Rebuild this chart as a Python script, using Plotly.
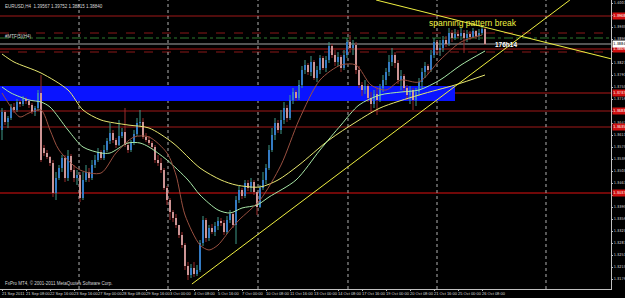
import plotly.graph_objects as go

# ---------------- data (prices in points, 1 point = 0.0001) ----------------
opens = [13626,13680,13650,13662,13695,13686,13710,13704,13719,13713,
         13701,13680,13692,13737,13572,13557,13545,13527,13437,13482,
         13512,13542,13482,13548,13506,13482,13491,13422,13476,13500,
         13482,13521,13536,13560,13542,13566,13593,13617,13596,13581,
         13608,13620,13581,13566,13587,13614,13647,13650,13605,13596,
         13587,13575,13536,13527,13506,13452,13416,13380,13362,13341,
         13311,13281,13218,13191,13212,13194,13206,13287,13356,13302,
         13332,13320,13338,13353,13347,13320,13356,13374,13341,13416,
         13446,13428,13467,13452,13470,13440,13395,13452,13476,13512,
         13566,13611,13647,13626,13656,13692,13662,13716,13740,13722,
         13761,13806,13821,13800,13830,13782,13806,13842,13812,13836,
         13878,13851,13830,13845,13812,13851,13890,13872,13881,13806,
         13761,13746,13758,13722,13704,13734,13716,13752,13776,13800,
         13830,13851,13827,13776,13788,13752,13731,13746,13716,13740,
         13770,13800,13818,13806,13851,13890,13866,13872,13896,13884,
         13917,13902,13914,13908,13917,13902,13914,13905,13923,13908,
         13917,13929]
closes = [13680,13650,13662,13695,13686,13710,13704,13719,13713,13701,
          13680,13692,13737,13536,13557,13545,13527,13437,13482,13512,
          13542,13482,13548,13506,13482,13491,13422,13476,13500,13482,
          13521,13536,13560,13542,13566,13593,13617,13596,13581,13608,
          13620,13581,13566,13587,13614,13647,13650,13605,13596,13587,
          13575,13536,13527,13506,13452,13416,13380,13362,13341,13311,
          13281,13218,13191,13212,13194,13206,13287,13356,13302,13332,
          13320,13338,13353,13347,13320,13356,13374,13341,13416,13446,
          13428,13467,13452,13470,13440,13395,13452,13476,13512,13566,
          13611,13647,13626,13656,13692,13662,13716,13740,13722,13761,
          13806,13821,13800,13830,13782,13806,13842,13812,13836,13878,
          13851,13830,13845,13812,13851,13890,13872,13881,13806,13761,
          13746,13758,13722,13704,13734,13716,13752,13776,13800,13830,
          13851,13827,13776,13788,13752,13731,13746,13716,13740,13770,
          13800,13818,13806,13851,13890,13866,13872,13896,13884,13917,
          13902,13914,13908,13917,13902,13914,13905,13923,13908,13917,
          13929,13884]
highs = [13692,13686,13668,13704,13707,13719,13716,13728,13725,13716,
         13707,13698,13746,13791,13581,13566,13548,13536,13500,13521,
         13551,13551,13566,13554,13521,13506,13500,13500,13521,13512,
         13536,13551,13572,13566,13581,13602,13647,13626,13602,13656,
         13632,13692,13590,13596,13626,13662,13686,13662,13617,13608,
         13593,13581,13551,13542,13512,13458,13422,13386,13374,13341,
         13320,13287,13230,13224,13230,13221,13296,13368,13362,13341,
         13344,13350,13365,13362,13356,13368,13386,13380,13428,13458,
         13452,13476,13476,13482,13476,13440,13461,13500,13524,13581,
         13632,13662,13656,13686,13710,13701,13731,13752,13746,13776,
         13818,13836,13827,13848,13836,13818,13851,13848,13848,13890,
         13884,13866,13860,13851,13866,13902,13911,13896,13890,13818,
         13770,13776,13764,13740,13746,13752,13764,13791,13812,13851,
         13872,13860,13836,13806,13794,13761,13758,13752,13752,13782,
         13812,13830,13824,13866,13902,13896,13896,13908,13908,13932,
         13926,13929,13926,13932,13926,13926,13923,13932,13926,13929,
         13938,13932]
lows = [13596,13641,13632,13656,13677,13680,13695,13698,13704,13692,
        13674,13668,13683,13530,13548,13539,13518,13425,13416,13476,
        13500,13470,13473,13500,13470,13461,13410,13416,13470,13470,
        13476,13512,13530,13536,13536,13560,13584,13587,13572,13578,
        13602,13575,13557,13560,13581,13608,13638,13599,13590,13581,
        13569,13527,13518,13497,13446,13401,13356,13350,13332,13302,
        13272,13206,13176,13182,13185,13188,13200,13278,13290,13293,
        13314,13308,13326,13338,13311,13314,13347,13332,13284,13407,
        13419,13422,13443,13440,13431,13371,13392,13446,13464,13506,
        13560,13596,13617,13614,13644,13650,13656,13704,13713,13716,
        13752,13794,13791,13788,13776,13770,13794,13806,13800,13827,
        13842,13818,13818,13800,13806,13842,13860,13851,13794,13752,
        13728,13734,13710,13680,13692,13671,13710,13740,13761,13788,
        13818,13812,13764,13746,13740,13716,13704,13686,13698,13728,
        13752,13782,13794,13800,13842,13854,13848,13860,13875,13878,
        13890,13896,13902,13896,13857,13890,13896,13902,13899,13896,
        13911,13881]

# moving averages read at sparse bars
ma_slow_bars = [0, 4, 13, 22, 27, 33, 42, 49, 57, 66, 73, 78, 86, 92, 99, 109, 118, 126, 139, 151, 161]
ma_slow_vals = [13854,13830,13797,13746,13686,13656,13641,13632,13587,13512,13476,13461,13455,13476,13521,13596,13650,13692,13731,13761,13791]
ma_mid_bars = [0, 3, 9, 13, 16, 22, 27, 33, 36, 42, 46, 49, 55, 62, 66, 72, 76, 80, 85, 89, 98, 106, 113, 119, 126, 133, 139, 146, 153, 161]
ma_mid_vals = [13755,13737,13716,13710,13695,13626,13575,13557,13557,13587,13587,13575,13536,13476,13431,13386,13377,13392,13401,13425,13476,13566,13641,13701,13731,13740,13746,13776,13821,13863]
ma_fast_bars = [0, 3, 6, 9, 13, 16, 19, 26, 33, 38, 44, 49, 55, 58, 61, 66, 69, 72, 76, 79, 86, 93, 99, 106, 113, 118, 123, 128, 133, 139, 146, 153, 160]
ma_fast_vals = [13737,13695,13665,13677,13686,13626,13566,13506,13497,13557,13605,13605,13557,13491,13371,13281,13266,13281,13326,13356,13416,13521,13656,13776,13821,13821,13761,13746,13776,13770,13836,13890,13911]

# drawn objects
trend_up_bars = [63.3, 189.3]
trend_up_vals = [13164, 14016]
trend_down_bars = [124.7, 203.3]
trend_down_vals = [14016, 13839]
zone_low, zone_high, zone_end = 13713, 13758, 151
level_vals = [13968, 13917, 13902, 13884, 13869, 13860, 13737, 13683, 13635, 13437]
tag_vals = [13968, 13869, 13737, 13683, 13635, 13437]
separator_bars = [25.67, 55.33, 85.33, 115.33, 145, 181.33]

date_ticks = list(range(0, 161, 8))
date_labels = ["21 Sep 2011", "21 Sep 08:00", "22 Sep 16:00", "23 Sep 16:00", "27 Sep 00:00",
               "28 Sep 08:00", "29 Sep 16:00", "3 Oct 00:00", "4 Oct 08:00", "5 Oct 16:00",
               "7 Oct 00:00", "10 Oct 08:00", "11 Oct 16:00", "13 Oct 00:00", "14 Oct 08:00",
               "17 Oct 16:00", "19 Oct 00:00", "20 Oct 08:00", "21 Oct 16:00", "25 Oct 00:00",
               "26 Oct 08:00"]

P = 1e-4
def px(v):
    return [a * P for a in v]

O, H, L, C = px(opens), px(highs), px(lows), px(closes)
bars = list(range(len(closes)))

# ---------------- layout constants ----------------
W, HGT = 625, 298
ML, MR, MT, MB = 0, 14, 0, 9
PW, PH = W - ML - MR, HGT - MT - MB
X0, X1 = -0.67, 203.0
Y0, Y1 = 1.3149, 1.4016
FONT = "Liberation Sans, Arial, sans-serif"
NARROW = "Liberation Sans Narrow, Arial Narrow, DejaVu Sans Condensed, sans-serif"

UP_BODY, DN_BODY = "#2a5cff", "#ffffff"
UP_WICK, DN_WICK = "#3f9a8a", "#9a2a2a"

fig = go.Figure()

# wicks
for up, col in ((True, UP_WICK), (False, DN_WICK)):
    xs, ys = [], []
    for i in bars:
        if (C[i] >= O[i]) == up:
            xs += [i, i, None]
            ys += [L[i], H[i], None]
    fig.add_trace(go.Scatter(x=xs, y=ys, mode="lines", line=dict(color=col, width=1),
                             hoverinfo="skip", showlegend=False))

# bodies
base = [min(o, c) for o, c in zip(O, C)]
hgt = [max(abs(c - o), 0.0002) for o, c in zip(O, C)]
cols = [UP_BODY if c >= o else DN_BODY for o, c in zip(O, C)]
fig.add_trace(go.Bar(x=bars, y=hgt, base=base, width=0.66, marker=dict(color=cols, line=dict(width=0)),
                     showlegend=False, hoverinfo="skip"))

# moving averages
for xb, yv, col in ((ma_slow_bars, ma_slow_vals, "#e8e870"),
                    (ma_mid_bars, ma_mid_vals, "#a8e8a8"),
                    (ma_fast_bars, ma_fast_vals, "#9a5040")):
    fig.add_trace(go.Scatter(x=xb, y=px(yv), mode="lines", line=dict(color=col, width=1, shape="spline", smoothing=0.8),
                             hoverinfo="skip", showlegend=False))

# trend lines
for xb, yv in ((trend_up_bars, trend_up_vals), (trend_down_bars, trend_down_vals)):
    fig.add_trace(go.Scatter(x=xb, y=px(yv), mode="lines", line=dict(color="#f0f040", width=1),
                             hoverinfo="skip", showlegend=False, cliponaxis=True))

shapes = []
# zone rectangle
shapes.append(dict(type="rect", xref="x", yref="y", x0=X0, x1=zone_end, y0=zone_low * P, y1=zone_high * P,
                   fillcolor="#0a14ff", line=dict(width=0), layer="below"))
# horizontal levels
level_styles = [("#a01818", "solid"), ("#8a1818", "dash"), ("#2f7a2f", "dashdot"), ("#a8a8a8", "solid"),
                ("#b01818", "solid"), ("#8a1818", "dash"), ("#b01818", "solid"), ("#a01818", "solid"),
                ("#a01818", "solid"), ("#e01010", "solid")]
for v, (col, dash) in zip(level_vals, level_styles):
    shapes.append(dict(type="line", xref="paper", yref="y", x0=0, x1=1, y0=v * P, y1=v * P,
                       line=dict(color=col, width=1, dash=dash), layer="below"))
# period separators
for b in separator_bars:
    shapes.append(dict(type="line", xref="x", yref="paper", x0=b, x1=b, y0=0, y1=1,
                       line=dict(color="#b0b0b0", width=1, dash="dot"), layer="below"))

def fx(x):
    return x / PW
def fy(y):
    return 1 - y / PH

annotations = [
    dict(x=fx(3), y=fy(2), xref="paper", yref="paper", xanchor="left", yanchor="top", showarrow=False,
         text="EURUSD,H4  1.39567 1.39752 1.38815 1.38840", font=dict(family=FONT, size=4.5, color="#d8d8d8")),
    dict(x=fx(3), y=fy(32), xref="paper", yref="paper", xanchor="left", yanchor="top", showarrow=False,
         text="#MTF(5)(H4)", font=dict(family=FONT, size=4.5, color="#d8d8d8")),
    dict(x=fx(3), y=fy(278), xref="paper", yref="paper", xanchor="left", yanchor="top", showarrow=False,
         text="FxPro MT4, \u00a9 2001-2011 MetaQuotes Software Corp.", font=dict(family=FONT, size=4.5, color="#d8d8d8")),
    dict(x=fx(427), y=fy(23), xref="paper", yref="paper", xanchor="left", yanchor="middle", showarrow=False,
         text="spanning pattern break", font=dict(family=FONT, size=8.5, color="#f0f040")),
    dict(x=fx(493), y=fy(45), xref="paper", yref="paper", xanchor="left", yanchor="middle", showarrow=False,
         text="<b>176h14</b>", font=dict(family=FONT, size=6.5, color="#ffffff")),
]
# date labels, left-aligned at their bars just under the axis
for b, t in zip(date_ticks, date_labels):
    annotations.append(dict(x=b, y=0, xref="x", yref="paper", xanchor="left", yanchor="top", showarrow=False,
                            yshift=-1, xshift=-1, text=t, borderpad=0,
                            font=dict(family=FONT, size=4.0, color="#d8d8d8")))
for v in tag_vals:
    annotations.append(dict(x=1, y=v * P, xref="paper", yref="y", xanchor="left", yanchor="middle", showarrow=False,
                            xshift=0.5, text="%.5f" % (v * P), bgcolor="#d01010", borderpad=0.3,
                            font=dict(family=NARROW, size=3.9, color="#ffffff")))
annotations.append(dict(x=1, y=closes[-1] * P, xref="paper", yref="y", xanchor="left", yanchor="middle", showarrow=False,
                        xshift=0.5, text="%.5f" % (closes[-1] * P), bgcolor="#ffffff", borderpad=0.3,
                        font=dict(family=NARROW, size=3.9, color="#000000")))

fig.update_layout(
    width=W, height=HGT, margin=dict(l=ML, r=MR, t=MT, b=MB, pad=0),
    paper_bgcolor="#000000", plot_bgcolor="#000000", barmode="overlay", showlegend=False,
    shapes=shapes, annotations=annotations,
    xaxis=dict(range=[X0, X1], tickvals=date_ticks, ticks="outside", ticklen=1, showticklabels=False,
               tickcolor="#c0c0c0", showline=True, linecolor="#c0c0c0",
               linewidth=1, showgrid=False, zeroline=False, automargin=False),
    yaxis=dict(range=[Y0, Y1], side="right", tick0=1.4007, dtick=0.0036, tickformat=".5f", ticks="outside",
               ticklen=1, tickcolor="#c0c0c0", showline=True, linecolor="#c0c0c0", linewidth=1,
               showgrid=False, zeroline=False, automargin=False, ticklabelstandoff=0,
               tickfont=dict(family=NARROW, size=3.9, color="#d8d8d8")),
)

fig.write_html("out.html")
